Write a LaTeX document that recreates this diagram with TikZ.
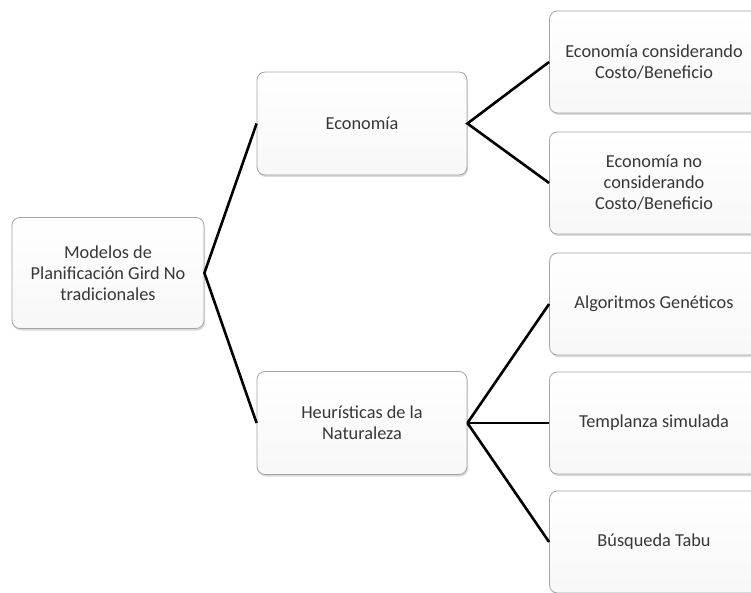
\documentclass[tikz,border=0pt]{standalone}
\usepackage{fontspec}
\setmainfont{Carlito}
\usepackage{tikz}
\usetikzlibrary{shadows}
\usepackage{xcolor}
\definecolor{boxline}{RGB}{165,165,165}
\definecolor{boxtext}{RGB}{55,55,55}

\begin{document}
\begin{tikzpicture}[x=1pt, y=-1pt,
  box/.style={draw=boxline, line width=0.8pt, rounded corners=8pt,
    top color=white, bottom color=black!3, text=boxtext, align=center,
    inner sep=0pt, font=\fontsize{18.3}{21}\selectfont,
    drop shadow={shadow xshift=1pt, shadow yshift=-2pt, opacity=0.3}},
  rootbox/.style={box, minimum width=192pt, minimum height=111pt},
  midbox/.style={box, minimum width=210pt, minimum height=103pt},
  leafbox/.style={box, minimum width=209pt, minimum height=102pt},
  link/.style={line width=2.6pt, black}]
  \useasboundingbox (0,0) rectangle (751,593);
  % root
  \node[rootbox] (root) at (108,273) {Modelos de\\Planificación Gird No\\tradicionales};
  % second level
  \node[midbox] (eco) at (362,123.5) {Economía};
  \node[midbox] (heur) at (362,423) {Heurísticas de la\\Naturaleza};
  % leaves
  \node[leafbox] (ecocb) at (654,62) {Economía considerando\\Costo/Beneficio};
  \node[leafbox] (econocb) at (654,183) {Economía no\\considerando\\Costo/Beneficio};
  \node[leafbox] (alg) at (654,304) {Algoritmos Genéticos};
  \node[leafbox] (temp) at (654,423) {Templanza simulada};
  \node[leafbox] (tabu) at (654,542) {Búsqueda Tabu};
  % connectors
  \draw[link] (eco.west) -- (root.east) -- (heur.west);
  \draw[link] (ecocb.west) -- (eco.east) -- (econocb.west);
  \draw[link] (heur.east) -- (alg.west);
  \draw[link] (heur.east) -- (temp.west);
  \draw[link] (heur.east) -- (tabu.west);
\end{tikzpicture}
\end{document}
